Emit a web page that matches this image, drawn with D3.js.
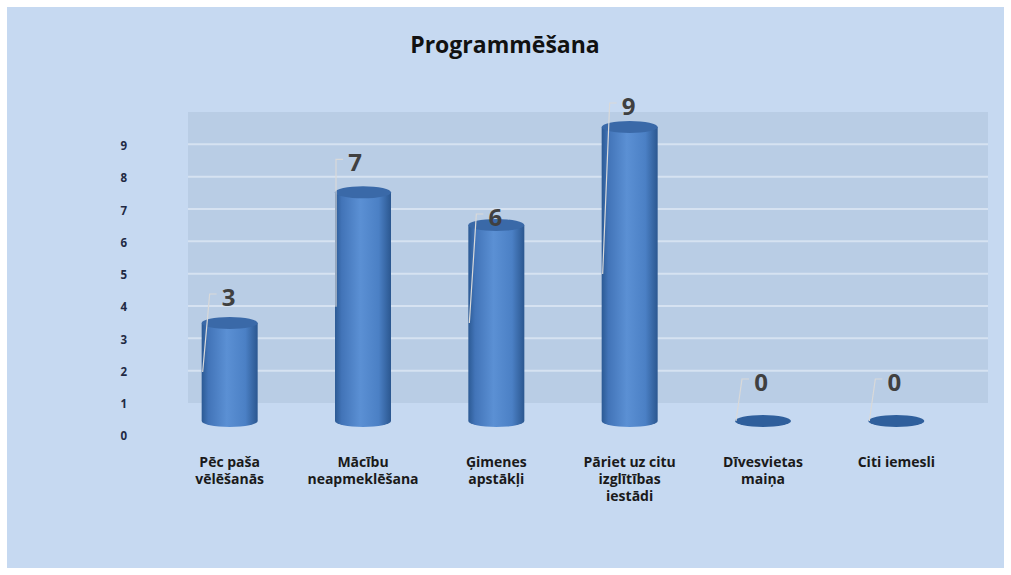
<!DOCTYPE html>
<html>
<head>
<meta charset="utf-8">
<script src="https://cdn.jsdelivr.net/npm/d3@7"></script>
<style>
    body { margin: 0; background: #fff; }
    svg text { font-family: "Open Sans", Lato, sans-serif; }
</style>
</head>
<body>
<div id="chart"></div>
<script>
// Programmēšana - 3D cylinder column chart
const categories = [
    ["Pēc paša", "vēlēšanās"],
    ["Mācību", "neapmeklēšana"],
    ["Ģimenes", "apstākļi"],
    ["Pāriet uz citu", "izglītības", "iestādi"],
    ["Dīvesvietas", "maiņa"],
    ["Citi iemesli"]
];
const values = [3, 7, 6, 9, 0, 0];
const yTicks = [0, 1, 2, 3, 4, 5, 6, 7, 8, 9];

// manual label nudges (as in the original, labels were dragged around)
const labelDx = [-1, -8, -1, -1, -2, -2];
const labelDy = [-25, -29, -7, -20, -38, -38];

const W = 1011, H = 575;

const svg = d3.select("#chart")
    .append("svg")
    .attr("width", W)
    .attr("height", H);

const defs = svg.append("defs");
const grad = defs.append("linearGradient").attr("id", "cyl")
    .attr("x1", "0%").attr("x2", "100%").attr("y1", "0%").attr("y2", "0%");
[["0%", "#2c5a94"], ["12%", "#4274b8"], ["45%", "#5b90d4"], ["78%", "#4b80c5"], ["100%", "#2b5790"]]
    .forEach(([o, c]) => grad.append("stop").attr("offset", o).attr("stop-color", c));

// chart area background
svg.append("rect")
    .attr("x", 7).attr("y", 7)
    .attr("width", 997).attr("height", 561)
    .attr("fill", "#c6d9f1");

// title
svg.append("text")
    .attr("x", 505).attr("y", 53)
    .attr("text-anchor", "middle")
    .attr("font-size", "23px")
    .attr("font-weight", "700")
    .attr("fill", "#111")
    .text("Programmēšana");

const x = d3.scaleBand()
    .domain(d3.range(values.length))
    .range([163, 963]);

const yWall = d3.scaleLinear().domain([0, 9]).range([403, 112]);
const yBar = d3.scaleLinear().domain([0, 9]).range([421, 127]);
const yAxisScale = d3.scaleLinear().domain([0, 9]).range([436, 146]);

// back wall
svg.append("rect")
    .attr("x", 188).attr("y", yWall(9))
    .attr("width", 800).attr("height", yWall(0) - yWall(9))
    .attr("fill", "#b9cde5");

svg.append("g")
    .selectAll("line")
    .data(yTicks.filter(d => d > 0 && d < 9))
    .enter()
    .append("line")
    .attr("x1", 188).attr("x2", 988)
    .attr("y1", d => yWall(d)).attr("y2", d => yWall(d))
    .attr("stroke", "#d6e2f1")
    .attr("stroke-width", 2);

// y axis labels
const yAxis = svg.append("g")
    .attr("transform", "translate(127,0)")
    .call(d3.axisLeft(yAxisScale).tickValues(yTicks).tickSize(0).tickPadding(0));
yAxis.select(".domain").remove();
yAxis.selectAll("text")
    .attr("font-family", "'Open Sans', sans-serif")
    .attr("font-size", "11.5px")
    .attr("font-weight", "700")
    .attr("fill", "#1f2a44");

// cylinders
const bw = x.bandwidth() * 0.42;
const ry = 6;
const bars = svg.append("g")
    .selectAll("g")
    .data(values)
    .enter()
    .append("g");

bars.each(function (v, i) {
    const g = d3.select(this);
    const cx = x(i) + x.bandwidth() / 2;
    const yTop = yBar(v), yBase = yBar(0);
    if (v > 0) {
        g.append("path")
            .attr("d", `M${cx - bw / 2},${yTop} L${cx - bw / 2},${yBase} A${bw / 2},${ry} 0 0 0 ${cx + bw / 2},${yBase} L${cx + bw / 2},${yTop} Z`)
            .attr("fill", "url(#cyl)");
        g.append("ellipse")
            .attr("cx", cx).attr("cy", yTop)
            .attr("rx", bw / 2).attr("ry", ry)
            .attr("fill", "#3a69a8");
    } else {
        g.append("ellipse")
            .attr("cx", cx).attr("cy", yBase)
            .attr("rx", bw / 2).attr("ry", ry)
            .attr("fill", "#2f5f9c");
    }
});

// value labels with leader lines
bars.each(function (v, i) {
    const g = d3.select(this);
    const cx = x(i) + x.bandwidth() / 2;
    const lx = cx + labelDx[i];
    const ly = yBar(v) + labelDy[i];
    g.append("path")
        .attr("d", `M${lx - 12},${ly - 4} L${lx - 19},${ly - 4} L${cx - bw / 2 + 1},${yBar(v / 2)}`)
        .attr("fill", "none")
        .attr("stroke", "#d9d9d9")
        .attr("stroke-width", 1.2);
    g.append("text")
        .attr("x", lx).attr("y", ly + 8)
        .attr("text-anchor", "middle")
        .attr("font-size", "24px")
        .attr("font-weight", "700")
        .attr("fill", "#404040")
        .text(v);
});

// category labels
svg.append("g")
    .selectAll("text")
    .data(categories)
    .enter()
    .append("text")
    .attr("x", (d, i) => x(i) + x.bandwidth() / 2)
    .attr("y", 467)
    .attr("text-anchor", "middle")
    .attr("font-size", "14px")
    .attr("font-weight", "700")
    .attr("fill", "#1a1a1a")
    .each(function (lines) {
        const t = d3.select(this);
        lines.forEach((s, k) => {
            t.append("tspan")
                .attr("x", t.attr("x"))
                .attr("dy", k === 0 ? 0 : 17)
                .text(s);
        });
    });
</script>
</body>
</html>
